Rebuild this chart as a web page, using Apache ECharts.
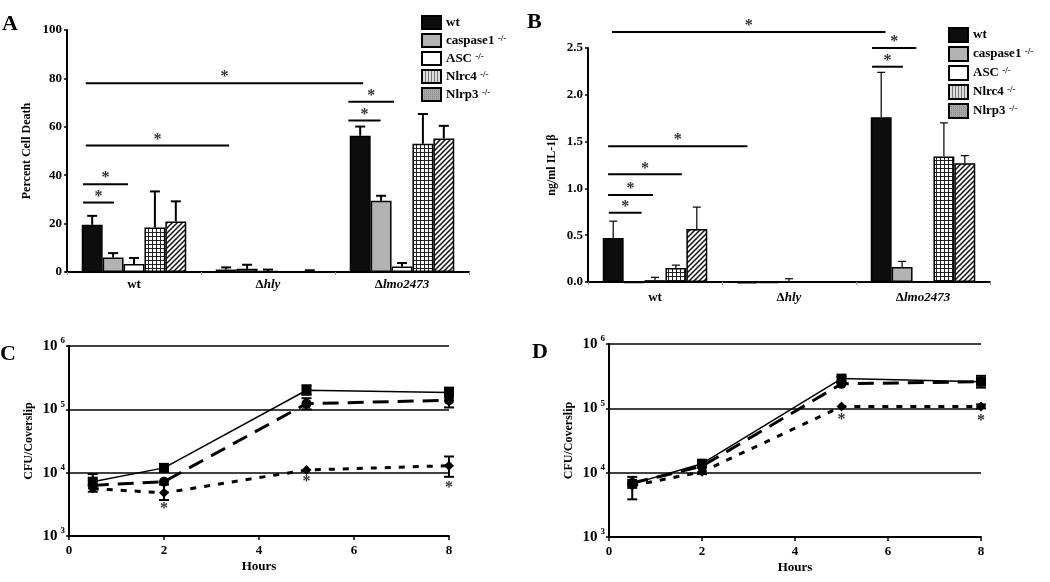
<!DOCTYPE html>
<html>
<head>
<meta charset="utf-8">
<script src="https://cdn.jsdelivr.net/npm/echarts@6/dist/echarts.min.js"></script>
<style>
html, body { margin: 0; padding: 0; background: #fff; }
#chart { width: 1050px; height: 582px; }
</style>
</head>
<body>
<div id="chart"></div>
<script>
// categories (A, B) and mouse strains
var groups = ['wt', 'Δhly', 'Δlmo2473'];
var strains = ['wt', 'caspase1', 'ASC', 'Nlrc4', 'Nlrp3'];

// A: percent cell death, bar value and top of error bar
var deathWt     = [19.5, 1.0, 56.3];
var deathCasp1  = [6.0, 1.3, 29.4];
var deathAsc    = [3.3, 0.4, 2.3];
var deathNlrc4  = [18.4, 0.1, 53.0];
var deathNlrp3  = [20.9, 0.2, 55.2];
var deathWtTop    = [23.2, 1.9, 60.1];
var deathCasp1Top = [7.8, 3.0, 31.5];
var deathAscTop   = [5.8, 1.0, 3.7];
var deathNlrc4Top = [33.3, 0.1, 65.3];
var deathNlrp3Top = [29.2, 0.7, 60.4];

// B: ng/ml IL-1beta
var il1bWt    = [0.47, -0.015, 1.76];
var il1bCasp1 = [-0.01, -0.01, 0.16];
var il1bAsc   = [0.02, 0.0, 0.0];
var il1bNlrc4 = [0.15, 0.0, 1.34];
var il1bNlrp3 = [0.565, 0.0, 1.27];
var il1bWtTop    = [0.65, -0.015, 2.24];
var il1bCasp1Top = [-0.01, -0.01, 0.22];
var il1bAscTop   = [0.05, 0.035, 0.0];
var il1bNlrc4Top = [0.18, 0.0, 1.70];
var il1bNlrp3Top = [0.80, 0.0, 1.35];

// significance bars: [from, to (in category units), value]
var sigA = [[0.14, 2.21, 78.0], [2.10, 2.44, 70.3], [2.10, 2.34, 62.6], [0.14, 1.21, 52.3], [0.12, 0.455, 36.3], [0.12, 0.35, 28.7]];
var sigB = [[0.18, 2.22, 2.67], [2.12, 2.45, 2.50], [2.12, 2.35, 2.30], [0.15, 1.19, 1.45], [0.15, 0.70, 1.15], [0.15, 0.485, 0.93], [0.155, 0.40, 0.74]];

// C, D: CFU per coverslip over time
var hours = [0.5, 2, 5, 8];
var cfuC1 = [7200, 11900, 200000, 184000];
var cfuC2 = [6300, 7200, 123000, 139000];
var cfuC3 = [5600, 4800, 11000, 12900];
var cfuD1 = [6700, 13800, 290000, 260000];
var cfuD2 = [6900, 12600, 240000, 260000];
var cfuD3 = [6300, 10300, 107000, 107000];
// error bars: [hour, low, high]
var errC = [[0.5, 5000, 9500], [2, 3700, 6500], [5, 170000, 240000], [5, 100000, 150000], [8, 160000, 220000], [8, 107000, 160000], [8, 8600, 18000]];
var errD = [[0.5, 3850, 8600], [2, 9500, 14500], [5, 250000, 310000], [8, 210000, 320000], [8, 100000, 115000]];
var starsC = [[2, 3000], [5, 7900], [8, 6400]];
var starsD = [[5, 73000], [8, 70000]];

var FONT = 'Liberation Serif';

function pattern(w, h, draw) {
  var c = document.createElement('canvas');
  c.width = w; c.height = h;
  draw(c.getContext('2d'));
  return { image: c, repeat: 'repeat' };
}
var gridFill = pattern(4, 4, function (g) {
  g.fillStyle = '#fff'; g.fillRect(0, 0, 4, 4);
  g.fillStyle = '#222'; g.fillRect(0, 0, 4, 1); g.fillRect(0, 0, 1, 4);
});
var diagFill = pattern(5, 5, function (g) {
  g.fillStyle = '#fff'; g.fillRect(0, 0, 5, 5);
  g.strokeStyle = '#111'; g.lineWidth = 1.5;
  g.beginPath();
  g.moveTo(-1, 6); g.lineTo(6, -1);
  g.moveTo(-1, 1); g.lineTo(1, -1);
  g.moveTo(4, 6); g.lineTo(6, 4);
  g.stroke();
});
var stripeFill = pattern(3, 1, function (g) {
  g.fillStyle = '#ddd'; g.fillRect(0, 0, 3, 1);
  g.fillStyle = '#777'; g.fillRect(0, 0, 1, 1);
});
var dotFill = pattern(2, 2, function (g) {
  g.fillStyle = '#a8a8a8'; g.fillRect(0, 0, 2, 2);
  g.fillStyle = '#888'; g.fillRect(0, 0, 1, 1);
});

var barFills = ['#0d0d0d', '#b3b3b3', '#ffffff', gridFill, diagFill];
var legendFills = ['#0d0d0d', '#b3b3b3', '#ffffff', stripeFill, dotFill];

var deathVals = [deathWt, deathCasp1, deathAsc, deathNlrc4, deathNlrp3];
var deathTops = [deathWtTop, deathCasp1Top, deathAscTop, deathNlrc4Top, deathNlrp3Top];
var il1bVals = [il1bWt, il1bCasp1, il1bAsc, il1bNlrc4, il1bNlrp3];
var il1bTops = [il1bWtTop, il1bCasp1Top, il1bAscTop, il1bNlrc4Top, il1bNlrp3Top];

// bar layout: 22% category gap, 5 bars touching
var GAP = 0.11, BW = 0.78 / 5;
function errRows(vals, tops) {
  var rows = [];
  vals.forEach(function (arr, i) {
    arr.forEach(function (v, g) {
      if (tops[i][g] > v + 1e-6) rows.push([g + GAP + BW * (i + 0.5), v, tops[i][g]]);
    });
  });
  return rows;
}
function zip(xs, ys) { return xs.map(function (x, i) { return [x, ys[i]]; }); }

function errRender(cap, lw, both) {
  return function (params, api) {
    var x = api.value(0);
    var lo = api.coord([x, api.value(1)]);
    var hi = api.coord([x, api.value(2)]);
    var st = { stroke: '#000', lineWidth: lw };
    var kids = [
      { type: 'line', shape: { x1: lo[0], y1: lo[1], x2: hi[0], y2: hi[1] }, style: st },
      { type: 'line', shape: { x1: hi[0] - cap, y1: hi[1], x2: hi[0] + cap, y2: hi[1] }, style: st }
    ];
    if (both) kids.push({ type: 'line', shape: { x1: lo[0] - cap, y1: lo[1], x2: lo[0] + cap, y2: lo[1] }, style: st });
    return { type: 'group', children: kids };
  };
}
function sigRender(params, api) {
  var a = api.coord([api.value(0), api.value(2)]);
  var b = api.coord([api.value(1), api.value(2)]);
  return { type: 'group', children: [
    { type: 'line', shape: { x1: a[0], y1: a[1], x2: b[0], y2: b[1] }, style: { stroke: '#000', lineWidth: 2 } },
    { type: 'text', x: (a[0] + b[0]) / 2, y: a[1] + 2,
      style: { text: '*', font: 'bold 16px ' + FONT, fill: '#333', align: 'center', verticalAlign: 'bottom' } }
  ] };
}
function starRender(params, api) {
  var p = api.coord([api.value(0), api.value(1)]);
  return { type: 'text', x: p[0], y: p[1] + 3,
    style: { text: '*', font: 'bold 16px ' + FONT, fill: '#333', align: 'center', verticalAlign: 'middle' } };
}

var bold13 = { fontFamily: FONT, fontWeight: 'bold', fontSize: 13, color: '#000' };
var nameStyle = { fontFamily: FONT, fontWeight: 'bold', fontSize: 12, color: '#000' };

function catAxis(grid, margin) {
  return {
    type: 'category', gridIndex: grid, data: groups,
    axisLine: { lineStyle: { color: '#000', width: 2 } },
    axisTick: { show: true, length: 3, lineStyle: { color: '#999' } },
    axisLabel: {
      margin: margin,
      formatter: function (v) { return v === 'wt' ? '{b|wt}' : '{b|Δ}{i|' + v.slice(1) + '}'; },
      rich: {
        b: { fontFamily: FONT, fontWeight: 'bold', fontSize: 13, color: '#000' },
        i: { fontFamily: FONT, fontWeight: 'bold', fontStyle: 'italic', fontSize: 13, color: '#000' }
      }
    }
  };
}
function hiddenX(grid) { return { type: 'value', gridIndex: grid, min: 0, max: 3, show: false }; }
function hoursAxis(grid) {
  return {
    type: 'value', gridIndex: grid, min: 0, max: 8, interval: 2,
    axisLine: { show: true, lineStyle: { color: '#000', width: 2 } },
    axisTick: { show: true, length: 4, lineStyle: { color: '#000', width: 1.5 } },
    splitLine: { show: false },
    axisLabel: Object.assign({ margin: 8 }, bold13),
    name: 'Hours', nameLocation: 'middle', nameGap: 24, nameTextStyle: bold13
  };
}
function logAxis(grid) {
  return {
    type: 'log', logBase: 10, gridIndex: grid, min: 1000, max: 1000000,
    axisLine: { show: true, lineStyle: { color: '#000', width: 2 } },
    axisTick: { show: true, length: 3, lineStyle: { color: '#000', width: 1.5 } },
    splitLine: { show: true, lineStyle: { color: '#000', width: 1.5 } },
    axisLabel: {
      margin: 4,
      formatter: function (v) { return '{b|10}{e|' + Math.round(Math.log10(v)) + '}'; },
      rich: {
        b: { fontFamily: FONT, fontWeight: 'bold', fontSize: 15, lineHeight: 19, color: '#000' },
        e: { fontFamily: FONT, fontWeight: 'bold', fontSize: 9, lineHeight: 9, verticalAlign: 'top', color: '#000', padding: [0, 0, 0, 3] }
      }
    },
    name: 'CFU/Coverslip', nameLocation: 'middle', nameGap: 34, nameRotate: 90, nameTextStyle: nameStyle
  };
}
function valAxis(grid, max, step, name, gap, fmt) {
  return {
    type: 'value', gridIndex: grid, min: 0, max: max, interval: step,
    axisLine: { show: true, lineStyle: { color: '#000', width: 2 } },
    axisTick: { show: true, length: 3, lineStyle: { color: '#000', width: 1.5 } },
    splitLine: { show: false },
    axisLabel: Object.assign({ margin: 5, formatter: fmt }, bold13),
    name: name, nameLocation: 'middle', nameGap: gap, nameRotate: 90, nameTextStyle: nameStyle
  };
}

function legendCfg(left, top, h) {
  return {
    left: left, top: top, orient: 'vertical', padding: 0,
    itemWidth: 19, itemHeight: h, itemGap: 3, icon: 'rect', selectedMode: false,
    data: strains.map(function (s, i) {
      return { name: s, itemStyle: { color: legendFills[i], borderColor: '#000', borderWidth: 2 } };
    }),
    formatter: function (n) { return n === 'wt' ? '{n|wt}' : '{n|' + n + ' }{s|-/-}'; },
    textStyle: {
      rich: {
        n: { fontFamily: FONT, fontWeight: 'bold', fontSize: 13, lineHeight: h, color: '#000' },
        s: { fontFamily: FONT, fontWeight: 'bold', fontSize: 9, lineHeight: 8, verticalAlign: 'top', color: '#000' }
      }
    }
  };
}

var series = [];
strains.forEach(function (s, i) {
  series.push({ type: 'bar', name: s, xAxisIndex: 0, yAxisIndex: 0, data: deathVals[i],
    barGap: '0%', barCategoryGap: '22%', clip: false,
    itemStyle: { color: barFills[i], borderColor: '#000', borderWidth: 1.5 } });
});
strains.forEach(function (s, i) {
  series.push({ type: 'bar', name: s, xAxisIndex: 2, yAxisIndex: 1, data: il1bVals[i],
    barGap: '0%', barCategoryGap: '22%', clip: false,
    itemStyle: { color: barFills[i], borderColor: '#000', borderWidth: 1.5 } });
});
series.push({ type: 'custom', name: 'errA', xAxisIndex: 1, yAxisIndex: 0, data: errRows(deathVals, deathTops), renderItem: errRender(5, 2, false), z: 5 });
series.push({ type: 'custom', name: 'errB', xAxisIndex: 3, yAxisIndex: 1, data: errRows(il1bVals, il1bTops), renderItem: errRender(4, 1.2, false), z: 5 });
series.push({ type: 'custom', name: 'sigA', xAxisIndex: 1, yAxisIndex: 0, data: sigA, renderItem: sigRender, z: 5 });
series.push({ type: 'custom', name: 'sigB', xAxisIndex: 3, yAxisIndex: 1, data: sigB, renderItem: sigRender, z: 5 });

function cfuLine(name, xi, yi, data, symbol, dash, width) {
  return { type: 'line', name: name, xAxisIndex: xi, yAxisIndex: yi, data: zip(hours, data),
    symbol: symbol, symbolSize: 10, itemStyle: { color: '#000' },
    lineStyle: { color: '#000', width: width, type: dash }, z: 4 };
}
series.push(cfuLine('C solid', 4, 2, cfuC1, 'rect', 'solid', 1.5));
series.push(cfuLine('C long dash', 4, 2, cfuC2, 'circle', [16, 9], 3));
series.push(cfuLine('C short dash', 4, 2, cfuC3, 'diamond', [6, 8], 3));
series.push(cfuLine('D solid', 5, 3, cfuD1, 'rect', 'solid', 1.5));
series.push(cfuLine('D long dash', 5, 3, cfuD2, 'circle', [16, 9], 3));
series.push(cfuLine('D short dash', 5, 3, cfuD3, 'diamond', [6, 8], 3));
series.push({ type: 'custom', name: 'errC', xAxisIndex: 4, yAxisIndex: 2, data: errC, renderItem: errRender(5, 2, true), z: 6 });
series.push({ type: 'custom', name: 'errD', xAxisIndex: 5, yAxisIndex: 3, data: errD, renderItem: errRender(5, 2, true), z: 6 });
series.push({ type: 'custom', name: 'starsC', xAxisIndex: 4, yAxisIndex: 2, data: starsC, renderItem: starRender, z: 6 });
series.push({ type: 'custom', name: 'starsD', xAxisIndex: 5, yAxisIndex: 3, data: starsD, renderItem: starRender, z: 6 });

var panelFont = { fontFamily: FONT, fontWeight: 'bold', fontSize: 22, color: '#000' };
var option = {
  animation: false,
  backgroundColor: '#fff',
  title: [
    { text: 'A', left: 2, top: 13, padding: 0, textStyle: panelFont },
    { text: 'B', left: 527, top: 11, padding: 0, textStyle: panelFont },
    { text: 'C', left: 0, top: 343, padding: 0, textStyle: panelFont },
    { text: 'D', left: 532, top: 341, padding: 0, textStyle: panelFont }
  ],
  legend: [legendCfg(421, 15, 13), legendCfg(948, 27, 14)],
  grid: [
    { left: 67, top: 30, width: 402, height: 242 },
    { left: 588, top: 48, width: 402, height: 234 },
    { left: 69, top: 346, width: 380, height: 190 },
    { left: 609, top: 344, width: 372, height: 193 }
  ],
  xAxis: [catAxis(0, 6), hiddenX(0), catAxis(1, 9), hiddenX(1), hoursAxis(2), hoursAxis(3)],
  yAxis: [
    valAxis(0, 100, 20, 'Percent Cell Death', 34),
    valAxis(1, 2.5, 0.5, 'ng/ml IL-1β', 30, function (v) { return v.toFixed(1); }),
    logAxis(2),
    logAxis(3)
  ],
  series: series
};

var chart = echarts.init(document.getElementById('chart'), null, { renderer: 'canvas' });
chart.setOption(option);
</script>
</body>
</html>
